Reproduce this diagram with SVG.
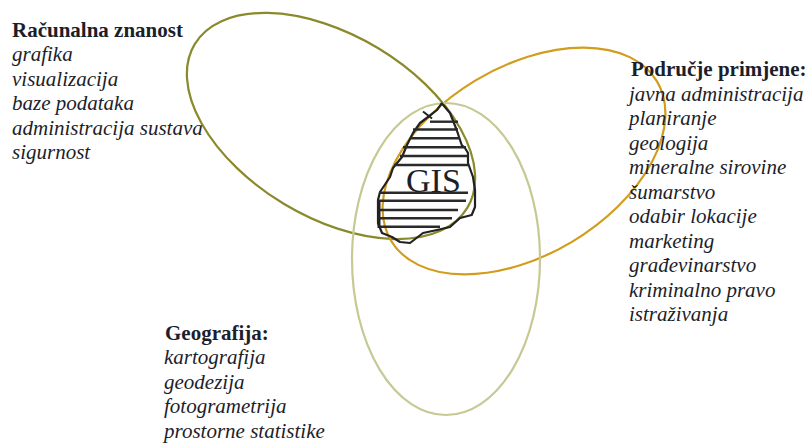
<svg xmlns="http://www.w3.org/2000/svg" width="811" height="443" viewBox="0 0 811 443">
<style>
.ell{fill:none;stroke-width:2.2}
.t{font-family:"Liberation Serif","Times New Roman",serif;font-size:21px;fill:#1c1e2a}
.b{font-weight:bold}
.i{font-style:italic}
.hatch line{stroke:#2a2a2a;stroke-width:2.4}
</style>
<rect width="811" height="443" fill="#fff"/>
<g id="racunalna-ellipse"><ellipse class="ell" cx="331" cy="126" rx="159" ry="91" transform="rotate(31 331 126)" stroke="#8a8a2c"/></g>
<g id="primjena-ellipse"><ellipse class="ell" cx="524" cy="161" rx="155" ry="94" transform="rotate(-31 524 161)" stroke="#d29c1c"/></g>
<g id="geografija-ellipse"><ellipse class="ell" cx="446" cy="259" rx="94" ry="156" stroke="#c6c994"/></g>
<g id="gis">
<path d="M441.7,103.3 L450,113 L456.7,130 L461.7,145 L465,148 L468,153 L468,163 L473,177 L475,190 L475,207 L471.7,215 L460,218 L450,227 L437,230 L423,233 L410,243 L400,242 L392,237 L382,233 L378,223 L378,200 L380,192 L390,177 L393,168 L402,157 L407,145 L413,133 L420,123 L428,117 L437,110 Z" fill="none" stroke="#222" stroke-width="2.2" stroke-linejoin="round"/>
<line x1="423" y1="111.5" x2="432" y2="118.5" stroke="#222" stroke-width="2"/>
<g class="hatch">
<line x1="430" y1="121.7" x2="458" y2="121.7"/>
<line x1="413" y1="129.5" x2="458" y2="129.5"/>
<line x1="410" y1="138.3" x2="460" y2="138.3"/>
<line x1="403" y1="147.3" x2="466" y2="147.3"/>
<line x1="400" y1="156" x2="468" y2="156"/>
<line x1="394" y1="165" x2="468" y2="165"/>
<line x1="379" y1="192.7" x2="468" y2="192.7"/>
<line x1="378" y1="200.7" x2="466" y2="200.7"/>
<line x1="378" y1="210" x2="458" y2="210"/>
<line x1="378" y1="218.3" x2="452" y2="218.3"/>
<line x1="378" y1="226.7" x2="440" y2="226.7"/>
</g>
<line x1="379" y1="201" x2="379" y2="228" stroke="#222" stroke-width="3"/>
<text class="t" x="406" y="192" style="font-size:34px">GIS</text>
</g>
<g id="racunalna-text">
<text class="t b" x="12" y="37">Računalna znanost</text>
<text class="t i" x="12" y="61">grafika</text>
<text class="t i" x="12" y="86">visualizacija</text>
<text class="t i" x="12" y="110">baze podataka</text>
<text class="t i" x="12" y="135">administracija sustava</text>
<text class="t i" x="12" y="159">sigurnost</text>
</g>
<g id="primjena-text">
<text class="t b" x="631" y="76">Područje primjene:</text>
<text class="t i" x="629" y="101">javna administracija</text>
<text class="t i" x="629" y="125">planiranje</text>
<text class="t i" x="629" y="150">geologija</text>
<text class="t i" x="629" y="174">mineralne sirovine</text>
<text class="t i" x="629" y="199">šumarstvo</text>
<text class="t i" x="629" y="223">odabir lokacije</text>
<text class="t i" x="629" y="248">marketing</text>
<text class="t i" x="629" y="272">građevinarstvo</text>
<text class="t i" x="629" y="297">kriminalno pravo</text>
<text class="t i" x="629" y="321">istraživanja</text>
</g>
<g id="geografija-text">
<text class="t b" x="165" y="340">Geografija:</text>
<text class="t i" x="164" y="364">kartografija</text>
<text class="t i" x="164" y="389">geodezija</text>
<text class="t i" x="164" y="413">fotogrametrija</text>
<text class="t i" x="164" y="438">prostorne statistike</text>
</g>
</svg>
